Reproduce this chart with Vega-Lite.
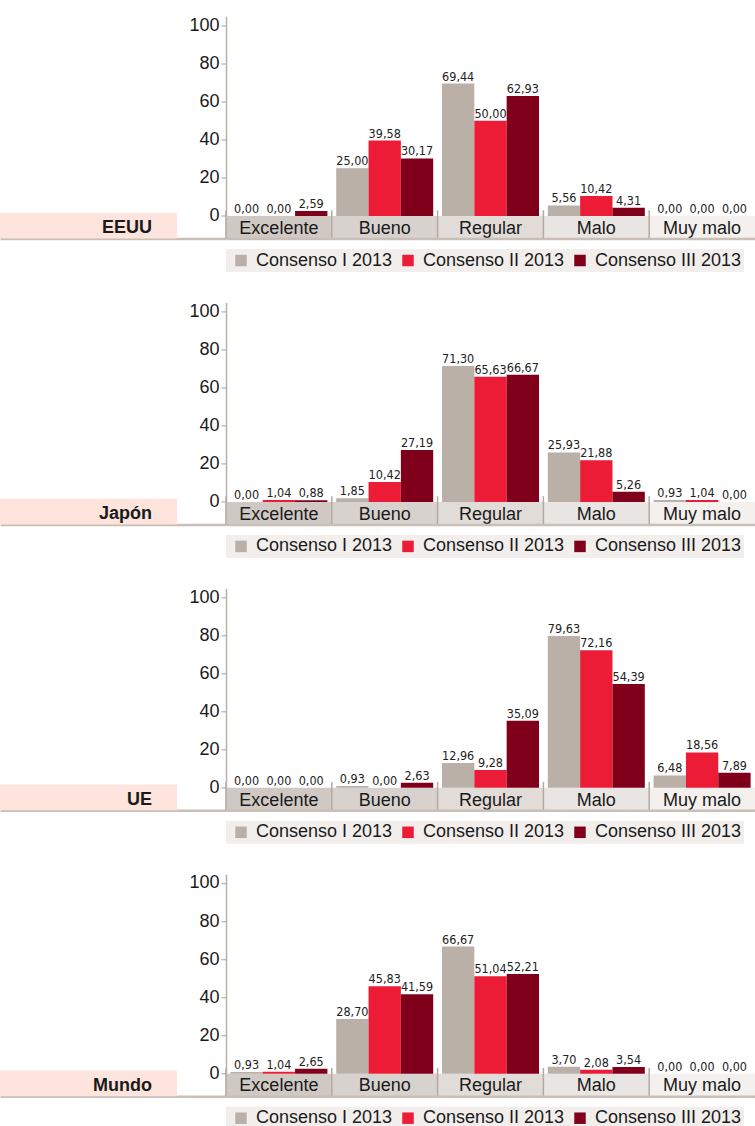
{
  "$schema": "https://vega.github.io/schema/vega-lite/v6.json",
  "padding": {"left": 0, "top": 15.5, "right": 0, "bottom": 0},
  "background": "white",
  "datasets": {
    "d": [
      {"p": "EEUU", "c": "Excelente", "s": "Consenso I 2013", "v": 0},
      {"p": "EEUU", "c": "Excelente", "s": "Consenso II 2013", "v": 0},
      {"p": "EEUU", "c": "Excelente", "s": "Consenso III 2013", "v": 2.59},
      {"p": "EEUU", "c": "Bueno", "s": "Consenso I 2013", "v": 25},
      {"p": "EEUU", "c": "Bueno", "s": "Consenso II 2013", "v": 39.58},
      {"p": "EEUU", "c": "Bueno", "s": "Consenso III 2013", "v": 30.17},
      {"p": "EEUU", "c": "Regular", "s": "Consenso I 2013", "v": 69.44},
      {"p": "EEUU", "c": "Regular", "s": "Consenso II 2013", "v": 50},
      {"p": "EEUU", "c": "Regular", "s": "Consenso III 2013", "v": 62.93},
      {"p": "EEUU", "c": "Malo", "s": "Consenso I 2013", "v": 5.56},
      {"p": "EEUU", "c": "Malo", "s": "Consenso II 2013", "v": 10.42},
      {"p": "EEUU", "c": "Malo", "s": "Consenso III 2013", "v": 4.31},
      {"p": "EEUU", "c": "Muy malo", "s": "Consenso I 2013", "v": 0},
      {"p": "EEUU", "c": "Muy malo", "s": "Consenso II 2013", "v": 0},
      {"p": "EEUU", "c": "Muy malo", "s": "Consenso III 2013", "v": 0},
      {"p": "Japón", "c": "Excelente", "s": "Consenso I 2013", "v": 0},
      {"p": "Japón", "c": "Excelente", "s": "Consenso II 2013", "v": 1.04},
      {"p": "Japón", "c": "Excelente", "s": "Consenso III 2013", "v": 0.88},
      {"p": "Japón", "c": "Bueno", "s": "Consenso I 2013", "v": 1.85},
      {"p": "Japón", "c": "Bueno", "s": "Consenso II 2013", "v": 10.42},
      {"p": "Japón", "c": "Bueno", "s": "Consenso III 2013", "v": 27.19},
      {"p": "Japón", "c": "Regular", "s": "Consenso I 2013", "v": 71.3},
      {"p": "Japón", "c": "Regular", "s": "Consenso II 2013", "v": 65.63},
      {"p": "Japón", "c": "Regular", "s": "Consenso III 2013", "v": 66.67},
      {"p": "Japón", "c": "Malo", "s": "Consenso I 2013", "v": 25.93},
      {"p": "Japón", "c": "Malo", "s": "Consenso II 2013", "v": 21.88},
      {"p": "Japón", "c": "Malo", "s": "Consenso III 2013", "v": 5.26},
      {"p": "Japón", "c": "Muy malo", "s": "Consenso I 2013", "v": 0.93},
      {"p": "Japón", "c": "Muy malo", "s": "Consenso II 2013", "v": 1.04},
      {"p": "Japón", "c": "Muy malo", "s": "Consenso III 2013", "v": 0},
      {"p": "UE", "c": "Excelente", "s": "Consenso I 2013", "v": 0},
      {"p": "UE", "c": "Excelente", "s": "Consenso II 2013", "v": 0},
      {"p": "UE", "c": "Excelente", "s": "Consenso III 2013", "v": 0},
      {"p": "UE", "c": "Bueno", "s": "Consenso I 2013", "v": 0.93},
      {"p": "UE", "c": "Bueno", "s": "Consenso II 2013", "v": 0},
      {"p": "UE", "c": "Bueno", "s": "Consenso III 2013", "v": 2.63},
      {"p": "UE", "c": "Regular", "s": "Consenso I 2013", "v": 12.96},
      {"p": "UE", "c": "Regular", "s": "Consenso II 2013", "v": 9.28},
      {"p": "UE", "c": "Regular", "s": "Consenso III 2013", "v": 35.09},
      {"p": "UE", "c": "Malo", "s": "Consenso I 2013", "v": 79.63},
      {"p": "UE", "c": "Malo", "s": "Consenso II 2013", "v": 72.16},
      {"p": "UE", "c": "Malo", "s": "Consenso III 2013", "v": 54.39},
      {"p": "UE", "c": "Muy malo", "s": "Consenso I 2013", "v": 6.48},
      {"p": "UE", "c": "Muy malo", "s": "Consenso II 2013", "v": 18.56},
      {"p": "UE", "c": "Muy malo", "s": "Consenso III 2013", "v": 7.89},
      {"p": "Mundo", "c": "Excelente", "s": "Consenso I 2013", "v": 0.93},
      {"p": "Mundo", "c": "Excelente", "s": "Consenso II 2013", "v": 1.04},
      {"p": "Mundo", "c": "Excelente", "s": "Consenso III 2013", "v": 2.65},
      {"p": "Mundo", "c": "Bueno", "s": "Consenso I 2013", "v": 28.7},
      {"p": "Mundo", "c": "Bueno", "s": "Consenso II 2013", "v": 45.83},
      {"p": "Mundo", "c": "Bueno", "s": "Consenso III 2013", "v": 41.59},
      {"p": "Mundo", "c": "Regular", "s": "Consenso I 2013", "v": 66.67},
      {"p": "Mundo", "c": "Regular", "s": "Consenso II 2013", "v": 51.04},
      {"p": "Mundo", "c": "Regular", "s": "Consenso III 2013", "v": 52.21},
      {"p": "Mundo", "c": "Malo", "s": "Consenso I 2013", "v": 3.7},
      {"p": "Mundo", "c": "Malo", "s": "Consenso II 2013", "v": 2.08},
      {"p": "Mundo", "c": "Malo", "s": "Consenso III 2013", "v": 3.54},
      {"p": "Mundo", "c": "Muy malo", "s": "Consenso I 2013", "v": 0},
      {"p": "Mundo", "c": "Muy malo", "s": "Consenso II 2013", "v": 0},
      {"p": "Mundo", "c": "Muy malo", "s": "Consenso III 2013", "v": 0}
    ]
  },
  "bounds": "flush",
  "columns": 2,
  "spacing": {"row": 63.9, "column": 0},
  "resolve": {"scale": {"color": "independent", "fill": "independent"}},
  "concat": [
    {
      "width": 226, "height": 222,
      "data": {"values": [{"p": "EEUU"}]},
      "layer": [
        {"mark": {"type": "rect", "color": "#fde4dd"},
         "encoding": {
           "x": {"datum": 0, "type": "quantitative", "scale": {"domain": [0, 226], "nice": false}},
           "x2": {"datum": 177},
           "y": {"datum": 1.7, "type": "quantitative", "scale": {"domain": [-11.8, 104.6], "nice": false, "zero": false}, "axis": null},
           "y2": {"datum": -11.8}}},
        {"mark": {"type": "text", "align": "right", "baseline": "alphabetic", "fontSize": 18, "fontWeight": "bold", "color": "#1a1a1a"},
         "encoding": {
           "x": {"datum": 152, "type": "quantitative", "scale": {"domain": [0, 226], "nice": false}},
           "y": {"datum": -9, "type": "quantitative", "scale": {"domain": [-11.8, 104.6], "nice": false, "zero": false}, "axis": null},
           "text": {"field": "p"}}}
      ]
    },
    {
      "width": 529, "height": 222,
      "data": {"name": "d"},
      "transform": [{"filter": "datum.p === 'EEUU'"}],
      "layer": [
        {"transform": [{"filter": "datum.s === 'Consenso I 2013'"}],
         "mark": {"type": "rect"},
         "encoding": {
           "x": {"field": "c", "type": "nominal", "sort": ["Excelente", "Bueno", "Regular", "Malo", "Muy malo"], "scale": {"paddingInner": 0, "paddingOuter": 0}, "title": null},
           "y": {"datum": 0, "type": "quantitative", "scale": {"domain": [-11.8, 104.6], "nice": false, "zero": false}, "axis": {"values": [0, 20, 40, 60, 80, 100], "title": null}},
           "y2": {"datum": -11.8},
           "fill": {"field": "c", "type": "nominal", "scale": {"domain": ["Excelente", "Bueno", "Regular", "Malo", "Muy malo"], "range": ["#cfc8c3", "#d8d2ce", "#e1dcd8", "#e9e5e2", "#f3f0ee"]}, "legend": null}}},
        {"transform": [{"filter": "datum.s === 'Consenso I 2013'"}],
         "mark": {"type": "rule", "color": "#b5aaa2", "strokeWidth": 1.5},
         "encoding": {
           "x": {"field": "c", "type": "nominal", "sort": ["Excelente", "Bueno", "Regular", "Malo", "Muy malo"], "bandPosition": 0, "title": null},
           "y": {"datum": 3, "type": "quantitative", "scale": {"domain": [-11.8, 104.6], "nice": false, "zero": false}, "axis": {"values": [0, 20, 40, 60, 80, 100], "title": null}},
           "y2": {"datum": -11.8}}},
        {"mark": {"type": "bar"},
         "encoding": {
           "x": {"field": "c", "type": "nominal", "sort": ["Excelente", "Bueno", "Regular", "Malo", "Muy malo"], "title": null},
           "xOffset": {"field": "s", "type": "nominal", "sort": ["Consenso I 2013", "Consenso II 2013", "Consenso III 2013"], "scale": {"paddingInner": 0, "paddingOuter": 0.136}},
           "y": {"field": "v", "type": "quantitative", "scale": {"domain": [-11.8, 104.6], "nice": false, "zero": false}, "axis": {"values": [0, 20, 40, 60, 80, 100], "title": null}},
           "y2": {"datum": 0},
           "color": {"field": "s", "type": "nominal", "sort": ["Consenso I 2013", "Consenso II 2013", "Consenso III 2013"], "scale": {"domain": ["Consenso I 2013", "Consenso II 2013", "Consenso III 2013"], "range": ["#bab0a8", "#ec1c36", "#80001c"]},
             "legend": {"orient": "none", "legendX": 0, "legendY": 232.5, "direction": "horizontal", "title": null, "fillColor": "#f1eeec", "padding": 2.5, "symbolType": "square", "symbolSize": 132, "symbolStrokeWidth": 0, "symbolOffset": 3.5, "labelFontSize": 18, "labelColor": "#1a1a1a", "labelOffset": 6, "columnPadding": 3, "labelLimit": 300}}}},
        {"mark": {"type": "text", "baseline": "alphabetic", "dy": -3, "fontSize": 12.5, "font": "'Liberation Sans Narrow', 'DejaVu Sans Condensed', 'Liberation Sans', sans-serif", "color": "#222222"},
         "encoding": {
           "x": {"field": "c", "type": "nominal", "sort": ["Excelente", "Bueno", "Regular", "Malo", "Muy malo"], "title": null},
           "xOffset": {"field": "s", "type": "nominal", "sort": ["Consenso I 2013", "Consenso II 2013", "Consenso III 2013"]},
           "y": {"field": "v", "type": "quantitative", "scale": {"domain": [-11.8, 104.6], "nice": false, "zero": false}, "axis": {"values": [0, 20, 40, 60, 80, 100], "title": null}},
           "text": {"field": "v", "type": "quantitative", "format": ".2f"}}},
        {"transform": [{"filter": "datum.s === 'Consenso I 2013'"}],
         "mark": {"type": "text", "baseline": "alphabetic", "fontSize": 18, "color": "#1a1a1a"},
         "encoding": {
           "x": {"field": "c", "type": "nominal", "sort": ["Excelente", "Bueno", "Regular", "Malo", "Muy malo"], "title": null},
           "y": {"datum": -9.3, "type": "quantitative", "scale": {"domain": [-11.8, 104.6], "nice": false, "zero": false}, "axis": {"values": [0, 20, 40, 60, 80, 100], "title": null}},
           "text": {"field": "c"}}}
      ]
    },
    {
      "width": 226, "height": 222,
      "data": {"values": [{"p": "Japón"}]},
      "layer": [
        {"mark": {"type": "rect", "color": "#fde4dd"},
         "encoding": {
           "x": {"datum": 0, "type": "quantitative", "scale": {"domain": [0, 226], "nice": false}},
           "x2": {"datum": 177},
           "y": {"datum": 1.7, "type": "quantitative", "scale": {"domain": [-11.8, 104.6], "nice": false, "zero": false}, "axis": null},
           "y2": {"datum": -11.8}}},
        {"mark": {"type": "text", "align": "right", "baseline": "alphabetic", "fontSize": 18, "fontWeight": "bold", "color": "#1a1a1a"},
         "encoding": {
           "x": {"datum": 152, "type": "quantitative", "scale": {"domain": [0, 226], "nice": false}},
           "y": {"datum": -9, "type": "quantitative", "scale": {"domain": [-11.8, 104.6], "nice": false, "zero": false}, "axis": null},
           "text": {"field": "p"}}}
      ]
    },
    {
      "width": 529, "height": 222,
      "data": {"name": "d"},
      "transform": [{"filter": "datum.p === 'Japón'"}],
      "layer": [
        {"transform": [{"filter": "datum.s === 'Consenso I 2013'"}],
         "mark": {"type": "rect"},
         "encoding": {
           "x": {"field": "c", "type": "nominal", "sort": ["Excelente", "Bueno", "Regular", "Malo", "Muy malo"], "scale": {"paddingInner": 0, "paddingOuter": 0}, "title": null},
           "y": {"datum": 0, "type": "quantitative", "scale": {"domain": [-11.8, 104.6], "nice": false, "zero": false}, "axis": {"values": [0, 20, 40, 60, 80, 100], "title": null}},
           "y2": {"datum": -11.8},
           "fill": {"field": "c", "type": "nominal", "scale": {"domain": ["Excelente", "Bueno", "Regular", "Malo", "Muy malo"], "range": ["#cfc8c3", "#d8d2ce", "#e1dcd8", "#e9e5e2", "#f3f0ee"]}, "legend": null}}},
        {"transform": [{"filter": "datum.s === 'Consenso I 2013'"}],
         "mark": {"type": "rule", "color": "#b5aaa2", "strokeWidth": 1.5},
         "encoding": {
           "x": {"field": "c", "type": "nominal", "sort": ["Excelente", "Bueno", "Regular", "Malo", "Muy malo"], "bandPosition": 0, "title": null},
           "y": {"datum": 3, "type": "quantitative", "scale": {"domain": [-11.8, 104.6], "nice": false, "zero": false}, "axis": {"values": [0, 20, 40, 60, 80, 100], "title": null}},
           "y2": {"datum": -11.8}}},
        {"mark": {"type": "bar"},
         "encoding": {
           "x": {"field": "c", "type": "nominal", "sort": ["Excelente", "Bueno", "Regular", "Malo", "Muy malo"], "title": null},
           "xOffset": {"field": "s", "type": "nominal", "sort": ["Consenso I 2013", "Consenso II 2013", "Consenso III 2013"], "scale": {"paddingInner": 0, "paddingOuter": 0.136}},
           "y": {"field": "v", "type": "quantitative", "scale": {"domain": [-11.8, 104.6], "nice": false, "zero": false}, "axis": {"values": [0, 20, 40, 60, 80, 100], "title": null}},
           "y2": {"datum": 0},
           "color": {"field": "s", "type": "nominal", "sort": ["Consenso I 2013", "Consenso II 2013", "Consenso III 2013"], "scale": {"domain": ["Consenso I 2013", "Consenso II 2013", "Consenso III 2013"], "range": ["#bab0a8", "#ec1c36", "#80001c"]},
             "legend": {"orient": "none", "legendX": 0, "legendY": 232.5, "direction": "horizontal", "title": null, "fillColor": "#f1eeec", "padding": 2.5, "symbolType": "square", "symbolSize": 132, "symbolStrokeWidth": 0, "symbolOffset": 3.5, "labelFontSize": 18, "labelColor": "#1a1a1a", "labelOffset": 6, "columnPadding": 3, "labelLimit": 300}}}},
        {"mark": {"type": "text", "baseline": "alphabetic", "dy": -3, "fontSize": 12.5, "font": "'Liberation Sans Narrow', 'DejaVu Sans Condensed', 'Liberation Sans', sans-serif", "color": "#222222"},
         "encoding": {
           "x": {"field": "c", "type": "nominal", "sort": ["Excelente", "Bueno", "Regular", "Malo", "Muy malo"], "title": null},
           "xOffset": {"field": "s", "type": "nominal", "sort": ["Consenso I 2013", "Consenso II 2013", "Consenso III 2013"]},
           "y": {"field": "v", "type": "quantitative", "scale": {"domain": [-11.8, 104.6], "nice": false, "zero": false}, "axis": {"values": [0, 20, 40, 60, 80, 100], "title": null}},
           "text": {"field": "v", "type": "quantitative", "format": ".2f"}}},
        {"transform": [{"filter": "datum.s === 'Consenso I 2013'"}],
         "mark": {"type": "text", "baseline": "alphabetic", "fontSize": 18, "color": "#1a1a1a"},
         "encoding": {
           "x": {"field": "c", "type": "nominal", "sort": ["Excelente", "Bueno", "Regular", "Malo", "Muy malo"], "title": null},
           "y": {"datum": -9.3, "type": "quantitative", "scale": {"domain": [-11.8, 104.6], "nice": false, "zero": false}, "axis": {"values": [0, 20, 40, 60, 80, 100], "title": null}},
           "text": {"field": "c"}}}
      ]
    },
    {
      "width": 226, "height": 222,
      "data": {"values": [{"p": "UE"}]},
      "layer": [
        {"mark": {"type": "rect", "color": "#fde4dd"},
         "encoding": {
           "x": {"datum": 0, "type": "quantitative", "scale": {"domain": [0, 226], "nice": false}},
           "x2": {"datum": 177},
           "y": {"datum": 1.7, "type": "quantitative", "scale": {"domain": [-11.8, 104.6], "nice": false, "zero": false}, "axis": null},
           "y2": {"datum": -11.8}}},
        {"mark": {"type": "text", "align": "right", "baseline": "alphabetic", "fontSize": 18, "fontWeight": "bold", "color": "#1a1a1a"},
         "encoding": {
           "x": {"datum": 152, "type": "quantitative", "scale": {"domain": [0, 226], "nice": false}},
           "y": {"datum": -9, "type": "quantitative", "scale": {"domain": [-11.8, 104.6], "nice": false, "zero": false}, "axis": null},
           "text": {"field": "p"}}}
      ]
    },
    {
      "width": 529, "height": 222,
      "data": {"name": "d"},
      "transform": [{"filter": "datum.p === 'UE'"}],
      "layer": [
        {"transform": [{"filter": "datum.s === 'Consenso I 2013'"}],
         "mark": {"type": "rect"},
         "encoding": {
           "x": {"field": "c", "type": "nominal", "sort": ["Excelente", "Bueno", "Regular", "Malo", "Muy malo"], "scale": {"paddingInner": 0, "paddingOuter": 0}, "title": null},
           "y": {"datum": 0, "type": "quantitative", "scale": {"domain": [-11.8, 104.6], "nice": false, "zero": false}, "axis": {"values": [0, 20, 40, 60, 80, 100], "title": null}},
           "y2": {"datum": -11.8},
           "fill": {"field": "c", "type": "nominal", "scale": {"domain": ["Excelente", "Bueno", "Regular", "Malo", "Muy malo"], "range": ["#cfc8c3", "#d8d2ce", "#e1dcd8", "#e9e5e2", "#f3f0ee"]}, "legend": null}}},
        {"transform": [{"filter": "datum.s === 'Consenso I 2013'"}],
         "mark": {"type": "rule", "color": "#b5aaa2", "strokeWidth": 1.5},
         "encoding": {
           "x": {"field": "c", "type": "nominal", "sort": ["Excelente", "Bueno", "Regular", "Malo", "Muy malo"], "bandPosition": 0, "title": null},
           "y": {"datum": 3, "type": "quantitative", "scale": {"domain": [-11.8, 104.6], "nice": false, "zero": false}, "axis": {"values": [0, 20, 40, 60, 80, 100], "title": null}},
           "y2": {"datum": -11.8}}},
        {"mark": {"type": "bar"},
         "encoding": {
           "x": {"field": "c", "type": "nominal", "sort": ["Excelente", "Bueno", "Regular", "Malo", "Muy malo"], "title": null},
           "xOffset": {"field": "s", "type": "nominal", "sort": ["Consenso I 2013", "Consenso II 2013", "Consenso III 2013"], "scale": {"paddingInner": 0, "paddingOuter": 0.136}},
           "y": {"field": "v", "type": "quantitative", "scale": {"domain": [-11.8, 104.6], "nice": false, "zero": false}, "axis": {"values": [0, 20, 40, 60, 80, 100], "title": null}},
           "y2": {"datum": 0},
           "color": {"field": "s", "type": "nominal", "sort": ["Consenso I 2013", "Consenso II 2013", "Consenso III 2013"], "scale": {"domain": ["Consenso I 2013", "Consenso II 2013", "Consenso III 2013"], "range": ["#bab0a8", "#ec1c36", "#80001c"]},
             "legend": {"orient": "none", "legendX": 0, "legendY": 232.5, "direction": "horizontal", "title": null, "fillColor": "#f1eeec", "padding": 2.5, "symbolType": "square", "symbolSize": 132, "symbolStrokeWidth": 0, "symbolOffset": 3.5, "labelFontSize": 18, "labelColor": "#1a1a1a", "labelOffset": 6, "columnPadding": 3, "labelLimit": 300}}}},
        {"mark": {"type": "text", "baseline": "alphabetic", "dy": -3, "fontSize": 12.5, "font": "'Liberation Sans Narrow', 'DejaVu Sans Condensed', 'Liberation Sans', sans-serif", "color": "#222222"},
         "encoding": {
           "x": {"field": "c", "type": "nominal", "sort": ["Excelente", "Bueno", "Regular", "Malo", "Muy malo"], "title": null},
           "xOffset": {"field": "s", "type": "nominal", "sort": ["Consenso I 2013", "Consenso II 2013", "Consenso III 2013"]},
           "y": {"field": "v", "type": "quantitative", "scale": {"domain": [-11.8, 104.6], "nice": false, "zero": false}, "axis": {"values": [0, 20, 40, 60, 80, 100], "title": null}},
           "text": {"field": "v", "type": "quantitative", "format": ".2f"}}},
        {"transform": [{"filter": "datum.s === 'Consenso I 2013'"}],
         "mark": {"type": "text", "baseline": "alphabetic", "fontSize": 18, "color": "#1a1a1a"},
         "encoding": {
           "x": {"field": "c", "type": "nominal", "sort": ["Excelente", "Bueno", "Regular", "Malo", "Muy malo"], "title": null},
           "y": {"datum": -9.3, "type": "quantitative", "scale": {"domain": [-11.8, 104.6], "nice": false, "zero": false}, "axis": {"values": [0, 20, 40, 60, 80, 100], "title": null}},
           "text": {"field": "c"}}}
      ]
    },
    {
      "width": 226, "height": 222,
      "data": {"values": [{"p": "Mundo"}]},
      "layer": [
        {"mark": {"type": "rect", "color": "#fde4dd"},
         "encoding": {
           "x": {"datum": 0, "type": "quantitative", "scale": {"domain": [0, 226], "nice": false}},
           "x2": {"datum": 177},
           "y": {"datum": 1.7, "type": "quantitative", "scale": {"domain": [-11.8, 104.6], "nice": false, "zero": false}, "axis": null},
           "y2": {"datum": -11.8}}},
        {"mark": {"type": "text", "align": "right", "baseline": "alphabetic", "fontSize": 18, "fontWeight": "bold", "color": "#1a1a1a"},
         "encoding": {
           "x": {"datum": 152, "type": "quantitative", "scale": {"domain": [0, 226], "nice": false}},
           "y": {"datum": -9, "type": "quantitative", "scale": {"domain": [-11.8, 104.6], "nice": false, "zero": false}, "axis": null},
           "text": {"field": "p"}}}
      ]
    },
    {
      "width": 529, "height": 222,
      "data": {"name": "d"},
      "transform": [{"filter": "datum.p === 'Mundo'"}],
      "layer": [
        {"transform": [{"filter": "datum.s === 'Consenso I 2013'"}],
         "mark": {"type": "rect"},
         "encoding": {
           "x": {"field": "c", "type": "nominal", "sort": ["Excelente", "Bueno", "Regular", "Malo", "Muy malo"], "scale": {"paddingInner": 0, "paddingOuter": 0}, "title": null},
           "y": {"datum": 0, "type": "quantitative", "scale": {"domain": [-11.8, 104.6], "nice": false, "zero": false}, "axis": {"values": [0, 20, 40, 60, 80, 100], "title": null}},
           "y2": {"datum": -11.8},
           "fill": {"field": "c", "type": "nominal", "scale": {"domain": ["Excelente", "Bueno", "Regular", "Malo", "Muy malo"], "range": ["#cfc8c3", "#d8d2ce", "#e1dcd8", "#e9e5e2", "#f3f0ee"]}, "legend": null}}},
        {"transform": [{"filter": "datum.s === 'Consenso I 2013'"}],
         "mark": {"type": "rule", "color": "#b5aaa2", "strokeWidth": 1.5},
         "encoding": {
           "x": {"field": "c", "type": "nominal", "sort": ["Excelente", "Bueno", "Regular", "Malo", "Muy malo"], "bandPosition": 0, "title": null},
           "y": {"datum": 3, "type": "quantitative", "scale": {"domain": [-11.8, 104.6], "nice": false, "zero": false}, "axis": {"values": [0, 20, 40, 60, 80, 100], "title": null}},
           "y2": {"datum": -11.8}}},
        {"mark": {"type": "bar"},
         "encoding": {
           "x": {"field": "c", "type": "nominal", "sort": ["Excelente", "Bueno", "Regular", "Malo", "Muy malo"], "title": null},
           "xOffset": {"field": "s", "type": "nominal", "sort": ["Consenso I 2013", "Consenso II 2013", "Consenso III 2013"], "scale": {"paddingInner": 0, "paddingOuter": 0.136}},
           "y": {"field": "v", "type": "quantitative", "scale": {"domain": [-11.8, 104.6], "nice": false, "zero": false}, "axis": {"values": [0, 20, 40, 60, 80, 100], "title": null}},
           "y2": {"datum": 0},
           "color": {"field": "s", "type": "nominal", "sort": ["Consenso I 2013", "Consenso II 2013", "Consenso III 2013"], "scale": {"domain": ["Consenso I 2013", "Consenso II 2013", "Consenso III 2013"], "range": ["#bab0a8", "#ec1c36", "#80001c"]},
             "legend": {"orient": "none", "legendX": 0, "legendY": 232.5, "direction": "horizontal", "title": null, "fillColor": "#f1eeec", "padding": 2.5, "symbolType": "square", "symbolSize": 132, "symbolStrokeWidth": 0, "symbolOffset": 3.5, "labelFontSize": 18, "labelColor": "#1a1a1a", "labelOffset": 6, "columnPadding": 3, "labelLimit": 300}}}},
        {"mark": {"type": "text", "baseline": "alphabetic", "dy": -3, "fontSize": 12.5, "font": "'Liberation Sans Narrow', 'DejaVu Sans Condensed', 'Liberation Sans', sans-serif", "color": "#222222"},
         "encoding": {
           "x": {"field": "c", "type": "nominal", "sort": ["Excelente", "Bueno", "Regular", "Malo", "Muy malo"], "title": null},
           "xOffset": {"field": "s", "type": "nominal", "sort": ["Consenso I 2013", "Consenso II 2013", "Consenso III 2013"]},
           "y": {"field": "v", "type": "quantitative", "scale": {"domain": [-11.8, 104.6], "nice": false, "zero": false}, "axis": {"values": [0, 20, 40, 60, 80, 100], "title": null}},
           "text": {"field": "v", "type": "quantitative", "format": ".2f"}}},
        {"transform": [{"filter": "datum.s === 'Consenso I 2013'"}],
         "mark": {"type": "text", "baseline": "alphabetic", "fontSize": 18, "color": "#1a1a1a"},
         "encoding": {
           "x": {"field": "c", "type": "nominal", "sort": ["Excelente", "Bueno", "Regular", "Malo", "Muy malo"], "title": null},
           "y": {"datum": -9.3, "type": "quantitative", "scale": {"domain": [-11.8, 104.6], "nice": false, "zero": false}, "axis": {"values": [0, 20, 40, 60, 80, 100], "title": null}},
           "text": {"field": "c"}}}
      ]
    }
  ],
  "config": {
    "font": "Liberation Sans",
    "view": {"stroke": null},
    "locale": {"number": {"decimal": ",", "thousands": ".", "grouping": [3], "currency": ["", " €"]}},
    "axisY": {"grid": false, "domainColor": "#b9afa7", "domainWidth": 1.5, "tickColor": "#b9afa7", "tickWidth": 1.2, "tickSize": 5, "labelFontSize": 18, "labelColor": "#1a1a1a", "labelPadding": 2, "labelFont": "Liberation Sans"},
    "axisX": {"grid": false, "labels": false, "ticks": false, "domainColor": "#c9bfb7", "domainWidth": 2.5}
  }
}
